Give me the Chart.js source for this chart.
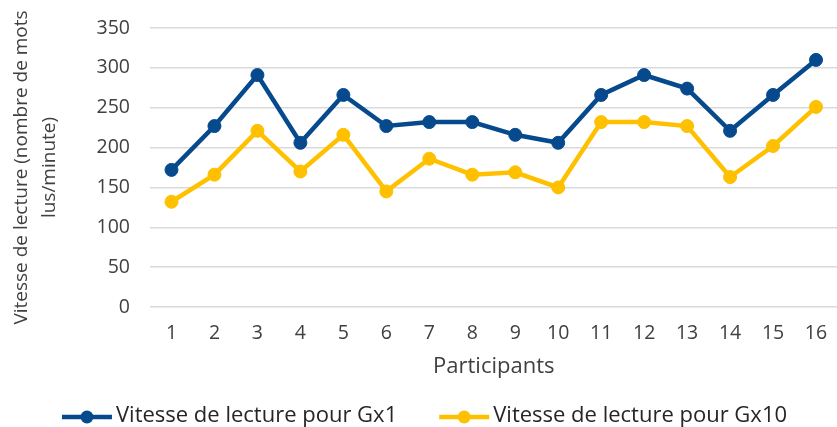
<!DOCTYPE html>
<html>
<head>
<meta charset="utf-8">
<script src="https://cdn.jsdelivr.net/npm/chart.js@4"></script>
<style>
  html, body { margin: 0; padding: 0; background: #fff; overflow: hidden; }
  #wrap { width: 845px; height: 427px; }
</style>
</head>
<body>
<div id="wrap"><canvas id="chart" width="845" height="427"></canvas></div>
<script>
// Data
const participants = ['1', '2', '3', '4', '5', '6', '7', '8', '9', '10', '11', '12', '13', '14', '15', '16'];
const gx1 = [172, 227, 291, 206, 266, 227, 232, 232, 216, 206, 266, 291, 274, 221, 266, 310];
const gx10 = [132, 166, 221, 170, 216, 145, 186, 166, 169, 150, 232, 232, 227, 163, 202, 251];
const yTicks = [0, 50, 100, 150, 200, 250, 300, 350];

const BLUE = '#064a8d';
const YELLOW = '#ffc000';
const FONT = '"Open Sans", "Noto Sans", sans-serif';

// Legend drawn under the axis: line + dot, then the series name
const lineLegend = {
    id: 'lineLegend',
    afterDraw(chart) {
        const c = chart.ctx;
        const markW = 50, gap = 4, between = 42;
        c.save();
        c.font = '22px ' + FONT;
        const items = chart.data.datasets.map(ds => ({
            ds: ds,
            w: markW + gap + c.measureText(ds.label).width
        }));
        const total = items.reduce((s, it) => s + it.w, 0) + between * (items.length - 1);
        let x = chart.width / 2 + 2 - total / 2;
        const y = 416;
        items.forEach(it => {
            c.strokeStyle = it.ds.borderColor;
            c.lineWidth = 4.5;
            c.beginPath();
            c.moveTo(x, y + 1);
            c.lineTo(x + markW, y + 1);
            c.stroke();
            c.fillStyle = it.ds.borderColor;
            c.beginPath();
            c.arc(x + markW / 2, y + 1, 6.5, 0, Math.PI * 2);
            c.fill();
            c.fillStyle = '#262626';
            c.textBaseline = 'middle';
            c.textAlign = 'left';
            c.fillText(it.ds.label, x + markW + gap, y);
            x += it.w + between;
        });
        c.restore();
    }
};

const ctx = document.getElementById('chart').getContext('2d');
new Chart(ctx, {
    type: 'line',
    data: {
        labels: participants,
        datasets: [{
            label: 'Vitesse de lecture pour Gx1',
            data: gx1,
            borderColor: BLUE,
            backgroundColor: BLUE,
            borderWidth: 4.5,
            pointRadius: 6.5,
            pointBorderWidth: 1,
            pointHoverRadius: 6.5,
            tension: 0
        }, {
            label: 'Vitesse de lecture pour Gx10',
            data: gx10,
            borderColor: YELLOW,
            backgroundColor: YELLOW,
            borderWidth: 4.5,
            pointRadius: 6.5,
            pointBorderWidth: 1,
            pointHoverRadius: 6.5,
            tension: 0
        }]
    },
    options: {
        responsive: false,
        animation: false,
        layout: {
            padding: { left: 0, right: 1, top: 28, bottom: 44 }
        },
        plugins: {
            tooltip: { enabled: false },
            legend: { display: false }
        },
        scales: {
            x: {
                offset: true,
                afterFit: function(scale) {
                    scale.height = 76;
                    // keep the plot running to the right edge
                    scale.paddingLeft = 0;
                    scale.paddingRight = 0;
                },
                grid: {
                    display: true,
                    drawOnChartArea: false,
                    drawTicks: true,
                    tickLength: 15,
                    tickColor: 'transparent'
                },
                border: { display: false },
                ticks: {
                    padding: 0,
                    color: '#404040',
                    font: { family: FONT, size: 19.5 }
                },
                title: {
                    display: true,
                    text: 'Participants',
                    color: '#404040',
                    font: { family: FONT, size: 22 },
                    padding: { top: 4, bottom: 3 }
                }
            },
            y: {
                min: 0,
                max: 350,
                afterFit: function(scale) {
                    scale.width = 150;
                    scale.paddingTop = 0;
                    scale.paddingBottom = 0;
                },
                afterBuildTicks: function(scale) {
                    scale.ticks = yTicks.map(function(v) { return { value: v }; });
                },
                grid: {
                    color: '#d9d9d9',
                    lineWidth: 1.5,
                    drawTicks: true,
                    tickLength: 20,
                    tickColor: 'transparent'
                },
                border: { display: false },
                ticks: {
                    padding: 0,
                    color: '#404040',
                    font: { family: FONT, size: 19.5 }
                },
                title: {
                    display: true,
                    text: ['Vitesse de lecture (nombre de mots', 'lus/minute)'],
                    color: '#404040',
                    font: { family: FONT, size: 19, lineHeight: 1.47 },
                    padding: { top: 8, bottom: 0 }
                }
            }
        }
    },
    plugins: [lineLegend]
});
</script>
</body>
</html>
